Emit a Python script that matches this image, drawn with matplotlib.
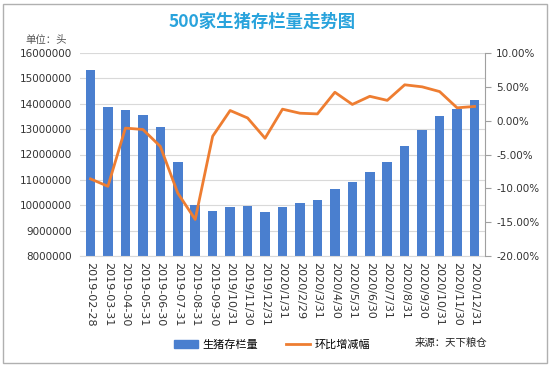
import numpy as np
import matplotlib.pyplot as plt
from matplotlib.patches import Rectangle, Patch
from matplotlib.lines import Line2D
from matplotlib.ticker import FuncFormatter

plt.rcParams['font.family'] = ['Noto Sans CJK SC', 'DejaVu Sans']

dates = ['2019-02-28', '2019-03-31', '2019-04-30', '2019-05-31', '2019-06-30',
         '2019-07-31', '2019-08-31', '2019-09-30', '2019/10/31', '2019/11/30',
         '2019/12/31', '2020/1/31', '2020/2/29', '2020/3/31', '2020/4/30',
         '2020/5/31', '2020/6/30', '2020/7/31', '2020/8/31', '2020/9/30',
         '2020/10/31', '2020/11/30', '2020/12/31']
stock = [15320000, 13860000, 13750000, 13550000, 13080000, 11700000, 10010000,
         9790000, 9930000, 9970000, 9750000, 9930000, 10080000, 10200000,
         10640000, 10900000, 11330000, 11700000, 12330000, 12970000,
         13530000, 13800000, 14130000]
change = [-8.6, -9.7, -1.1, -1.3, -3.8, -10.7, -14.6, -2.3, 1.5, 0.4, -2.6,
          1.7, 1.1, 1.0, 4.2, 2.4, 3.6, 3.0, 5.3, 5.0, 4.3, 1.9, 2.1]

bar_color = '#4a7fcf'
line_color = '#ee7d31'

fig = plt.figure(figsize=(5.5, 3.67), dpi=100)
fig.patches.append(Rectangle((0.006, 0.01), 0.988, 0.98, transform=fig.transFigure,
                             fill=False, edgecolor='#b0b0b0', linewidth=1))

ax = fig.add_axes([80/550, 1-256/367, 405/550, 203/367])
x = np.arange(len(dates))
ax.bar(x, stock, width=0.55, color=bar_color, zorder=2)
ax.set_ylim(8000000, 16000000)
ax.set_yticks(np.arange(8000000, 16000001, 1000000))
ax.yaxis.set_major_formatter(FuncFormatter(lambda v, p: '%d' % v))
ax.set_xlim(-0.6, len(dates) - 0.4)
ax.set_xticks(x)
ax.set_xticklabels(dates, rotation=270, fontsize=8, family=['DejaVu Sans'],
                   color='#333333')
ax.tick_params(axis='y', labelsize=7.5, length=0, pad=6, labelcolor='#333333')
ax.tick_params(axis='x', length=0, pad=4)
ax.grid(axis='y', color='#d9d9d9', linewidth=0.8, zorder=0)
for s in ['top', 'left', 'right']:
    ax.spines[s].set_visible(False)
ax.spines['bottom'].set_color('#d9d9d9')
for lab in ax.get_yticklabels():
    lab.set_family(['DejaVu Sans'])

ax2 = ax.twinx()
ax2.plot(x, np.array(change) / 100, color=line_color, linewidth=2, zorder=3)
ax2.set_ylim(-0.2, 0.1)
ax2.set_yticks([-0.2, -0.15, -0.1, -0.05, 0.0, 0.05, 0.1])
ax2.yaxis.set_major_formatter(FuncFormatter(lambda v, p: '%.2f%%' % (round(v * 100, 2) + 0.0)))
ax2.tick_params(axis='y', labelsize=7.5, length=4, color='#a0a0a0', pad=4,
                labelcolor='#333333')
for s in ['top', 'left', 'bottom']:
    ax2.spines[s].set_visible(False)
ax2.spines['right'].set_color('#a0a0a0')
for lab in ax2.get_yticklabels():
    lab.set_family(['DejaVu Sans'])

fig.text(262/550, 1-22/367, '500家生猪存栏量走势图', ha='center', va='center',
         fontsize=12.5, fontweight='bold', color='#29a3dc')
fig.text(25/550, 1-40/367, '单位：头', ha='left', va='center', fontsize=7.5,
         style='italic', color='#555555')

handles = [Patch(color=bar_color), Line2D([], [], color=line_color, linewidth=2)]
fig.legend(handles, ['生猪存栏量', '环比增减幅'], loc='center', ncol=2,
           bbox_to_anchor=(272/550, 1-345/367), frameon=False, fontsize=8,
           handlelength=2.2, handleheight=0.7, columnspacing=2.5, handletextpad=0.4)
fig.text(415/550, 1-343/367, '来源：天下粮仓', ha='left', va='center', fontsize=7.5,
         style='italic', color='#222222')

fig.savefig('out.png', dpi=100)
